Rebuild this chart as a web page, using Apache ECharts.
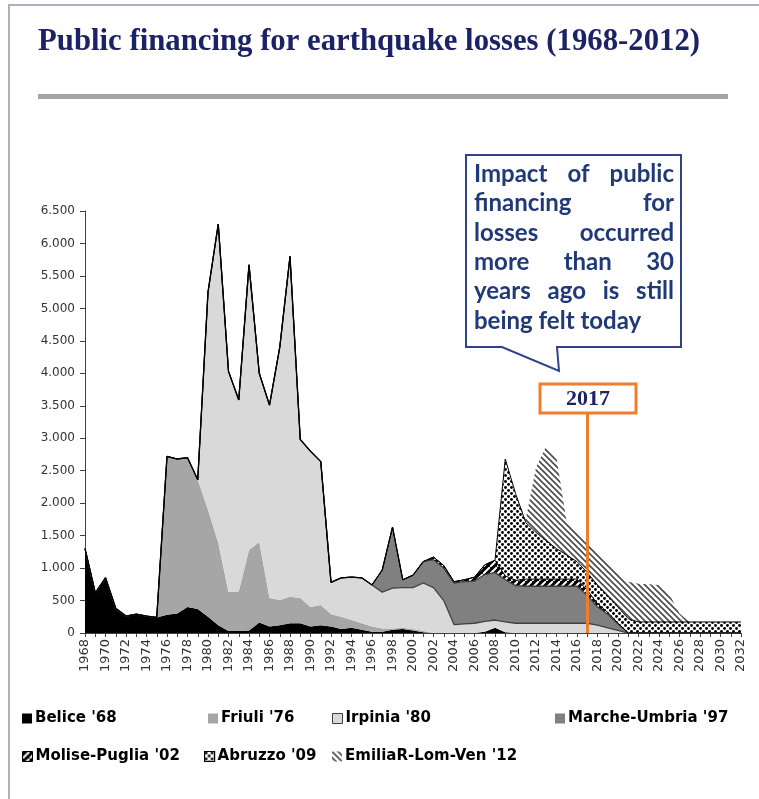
<!DOCTYPE html>
<html>
<head>
<meta charset="utf-8">
<script src="https://cdn.jsdelivr.net/npm/echarts@6/dist/echarts.min.js"></script>
<style>
html,body{margin:0;padding:0;background:#fff;}
#chart{width:759px;height:799px;}
</style>
</head>
<body>
<div id="chart"></div>
<script>
// ---------- DATA ----------
const years = ['1968','1969','1970','1971','1972','1973','1974','1975','1976','1977','1978','1979','1980','1981','1982','1983','1984','1985','1986','1987','1988','1989','1990','1991','1992','1993','1994','1995','1996','1997','1998','1999','2000','2001','2002','2003','2004','2005','2006','2007','2008','2009','2010','2011','2012','2013','2014','2015','2016','2017','2018','2019','2020','2021','2022','2023','2024','2025','2026','2027','2028','2029','2030','2031','2032'];

const belice = [1300,620,850,380,260,290,260,240,280,300,400,370,250,120,30,30,40,160,100,120,150,150,100,120,100,60,80,50,20,20,50,60,40,10,0,0,0,0,0,20,80,10,0,0,0,0,0,0,0,0,0,0,0,0,0,0,0,0,0,0,0,0,0,0,0];
const friuli = [0,0,0,0,0,0,0,0,2440,2380,2300,1990,1650,1270,600,610,1240,1240,440,390,410,390,300,310,190,190,120,100,80,50,20,20,20,20,0,0,0,0,0,0,0,0,0,0,0,0,0,0,0,0,0,0,0,0,0,0,0,0,0,0,0,0,0,0,0];
const irpinia = [0,0,0,0,0,0,0,0,0,0,0,0,3350,4910,3400,2950,4390,2600,2970,3890,5240,2440,2400,2210,490,600,660,700,640,560,620,620,640,740,700,500,130,140,150,160,120,160,150,150,150,150,150,150,150,150,120,80,40,0,0,0,0,0,0,0,0,0,0,0,0];
const marche = [0,0,0,0,0,0,0,0,0,0,0,0,0,0,0,0,0,0,0,0,0,0,0,0,0,0,0,0,0,340,940,120,190,330,430,500,640,650,650,720,730,650,580,570,570,570,570,570,570,430,280,210,100,0,0,0,0,0,0,0,0,0,0,0,0];
const molise = [0,0,0,0,0,0,0,0,0,0,0,0,0,0,0,0,0,0,0,0,0,0,0,0,0,0,0,0,0,0,0,0,0,0,40,40,20,30,60,150,190,60,80,110,110,110,110,110,110,80,50,30,10,0,0,0,0,0,0,0,0,0,0,0,0];
const abruzzo = [0,0,0,0,0,0,0,0,0,0,0,0,0,0,0,0,0,0,0,0,0,0,0,0,0,0,0,0,0,0,0,0,0,0,0,0,0,0,0,0,0,1800,1340,870,720,590,470,370,270,270,290,250,250,220,170,170,170,170,170,170,170,170,170,170,170];
const emilia = [0,0,0,0,0,0,0,0,0,0,0,0,0,0,0,0,0,0,0,0,0,0,0,0,0,0,0,0,0,0,0,0,0,0,0,0,0,0,0,0,0,0,0,50,1000,1460,1400,500,480,470,510,510,530,570,590,580,570,430,130,0,0,0,0,0,0];

const seriesNames = ["Belice '68","Friuli '76","Irpinia '80","Marche-Umbria '97","Molise-Puglia '02","Abruzzo '09","EmiliaR-Lom-Ven '12"];
const yTickLabels = ['0','500','1.000','1.500','2.000','2.500','3.000','3.500','4.000','4.500','5.000','5.500','6.000','6.500'];
const markYear = '2017';
const markTop = 3390;

const titleText = 'Public financing for earthquake losses (1968-2012)';
const calloutLines = [['Impact','of','public'],['financing','for'],['losses','occurred'],['more','than','30'],['years','ago','is','still'],['being felt today']];

// ---------- PATTERNS ----------
function mk(w,h,draw){const c=document.createElement('canvas');c.width=w;c.height=h;const g=c.getContext('2d');draw(g,w,h);return c;}
const molisePat = {image: mk(7,7,(g,w,h)=>{g.fillStyle='#000';g.fillRect(0,0,w,h);g.strokeStyle='#fff';g.lineWidth=2;g.beginPath();g.moveTo(-1,h+1);g.lineTo(w+1,-1);g.moveTo(-2,1);g.lineTo(1,-2);g.moveTo(w-1,h+2);g.lineTo(w+2,h-1);g.stroke();}), repeat:'repeat'};
const abruzzoPat = {image: mk(6,6,(g,w,h)=>{g.fillStyle='#fff';g.fillRect(0,0,w,h);g.fillStyle='#000';g.beginPath();g.arc(1.5,1.5,1.45,0,Math.PI*2);g.fill();g.beginPath();g.arc(4.5,4.5,1.45,0,Math.PI*2);g.fill();}), repeat:'repeat'};
const emiliaPat = {image: mk(6,6,(g,w,h)=>{g.fillStyle='#fff';g.fillRect(0,0,w,h);g.strokeStyle='#4a4a4a';g.lineWidth=1.6;g.beginPath();g.moveTo(-1,-1);g.lineTo(w+1,h+1);g.moveTo(w-1,-1);g.lineTo(w+1,1);g.moveTo(-1,h-1);g.lineTo(1,h+1);g.stroke();}), repeat:'repeat'};

const fills = ['#000000','#a6a6a6','#d9d9d9','#808080',molisePat,abruzzoPat,emiliaPat];
const lineW = [0,0,1.3,1.3,1,1,0];
const lineC = ['#000','#404040','#404040','#404040','#000','#000','#fff'];
const dataArr = [belice,friuli,irpinia,marche,molise,abruzzo,emilia];

const chart = echarts.init(document.getElementById('chart'), null, {renderer:'canvas'});

const series = seriesNames.map((n,i)=>{
  const s = {
    name:n, type:'line', stack:'total', data:dataArr[i], symbol:'none', showSymbol:false,
    smooth:false,
    lineStyle:{width:lineW[i], color:lineC[i], opacity: lineW[i]?1:0},
    itemStyle:{color:fills[i]},
    areaStyle:{color:fills[i], opacity:1},
    emphasis:{disabled:true}, animation:false
  };
  if(i===seriesNames.length-1){
    s.markLine = {silent:true, symbol:['none','none'], animation:false,
      lineStyle:{color:'#ed7d31', width:3, type:'solid'}, label:{show:false},
      data:[[{coord:[markYear,0]},{coord:[markYear,markTop]}]]};
  }
  return s;
});

// legend items
const legendPos = [[22,711],[208,711],[332,711],[555,711],[22,749],[204,749],[332,749]];
const legendBorder = [[null,0],[null,0],['#404040',1],[null,0],['#000',1],['#000',1.2],[null,0]];
const legends = seriesNames.map((n,i)=>({
  data:[{name:n, itemStyle:{color:fills[i], borderColor:legendBorder[i][0]||'transparent', borderWidth:legendBorder[i][1]}}],
  left:legendPos[i][0], top:legendPos[i][1], icon:'rect', itemWidth:10, itemHeight:10, itemGap:3,
  selectedMode:false, padding:0,
  textStyle:{fontFamily:'DejaVu Sans', fontWeight:'bold', fontSize:15, color:'#000', padding:[0,0,0,-2]}
}));

// title scaling
const mc = document.createElement('canvas').getContext('2d');
mc.font = 'bold 32px "Liberation Serif"';
const titleW = mc.measureText(titleText).width;
const titleScale = 662/titleW;

// callout words
const calloutFont = 'bold 24px Lato';
mc.font = calloutFont;
const cl = 474, cr = 674, cy0 = 174, cdy = 29.4;
const calloutEls = [];
calloutLines.forEach((words,li)=>{
  const y = cy0 + li*cdy;
  if(words.length===1){
    calloutEls.push({type:'text', x:cl, y:y, z:110, style:{text:words[0], font:calloutFont, fill:'#203a78', textAlign:'left', textVerticalAlign:'middle'}});
    return;
  }
  const widths = words.map(w=>mc.measureText(w).width);
  const total = widths.reduce((a,b)=>a+b,0);
  const gap = (cr-cl-total)/(words.length-1);
  let x = cl;
  words.forEach((w,k)=>{
    calloutEls.push({type:'text', x:x, y:y, z:110, style:{text:w, font:calloutFont, fill:'#203a78', textAlign:'left', textVerticalAlign:'middle'}});
    x += widths[k]+gap;
  });
});

const option = {
  animation:false,
  backgroundColor:'#fff',
  grid:{left:85, right:18, top:211, bottom:166, containLabel:false},
  legend:legends,
  xAxis:{
    type:'category', data:years, boundaryGap:false,
    axisLine:{show:true, lineStyle:{color:'#404040', width:1}},
    axisTick:{show:true, interval:0, length:4, lineStyle:{color:'#404040'}},
    axisLabel:{interval:1, rotate:90, fontFamily:'DejaVu Sans', fontSize:13, color:'#333', margin:6}
  },
  yAxis:{
    type:'value', min:0, max:6500, interval:500,
    axisLine:{show:true, lineStyle:{color:'#404040', width:1}},
    axisTick:{show:true, length:5, lineStyle:{color:'#404040'}},
    splitLine:{show:false},
    axisLabel:{fontFamily:'DejaVu Sans', fontSize:12, color:'#333', margin:10,
      formatter:(v)=>yTickLabels[Math.round(v/500)]}
  },
  series:series,
  graphic:[
    {type:'line', z:100, shape:{x1:8,y1:5,x2:759,y2:5}, style:{stroke:'#aab2c2', lineWidth:2}},
    {type:'line', z:100, shape:{x1:9,y1:5,x2:9,y2:799}, style:{stroke:'#aab2c2', lineWidth:2}},
    {type:'text', z:100, x:38, y:42, scaleX:titleScale, style:{text:titleText, font:'bold 32px "Liberation Serif"', fill:'#1b2266', textAlign:'left', textVerticalAlign:'middle'}},
    {type:'rect', z:100, shape:{x:38,y:94,width:690,height:5}, style:{fill:'#a6a6a6'}},
    {type:'polygon', z:105, shape:{points:[[466,155],[681,155],[681,347],[557,347],[559,371],[502,347],[466,347]]}, style:{fill:'#fff', stroke:'#2f4386', lineWidth:2}},
    ...calloutEls,
    {type:'rect', z:105, shape:{x:540,y:384,width:96,height:29}, style:{fill:'#fff', stroke:'#ed7d31', lineWidth:3}},
    {type:'text', z:110, x:588, y:399, style:{text:'2017', font:'bold 22px "Liberation Serif"', fill:'#1b2266', textAlign:'center', textVerticalAlign:'middle'}}
  ]
};
chart.setOption(option);
</script>
</body>
</html>
